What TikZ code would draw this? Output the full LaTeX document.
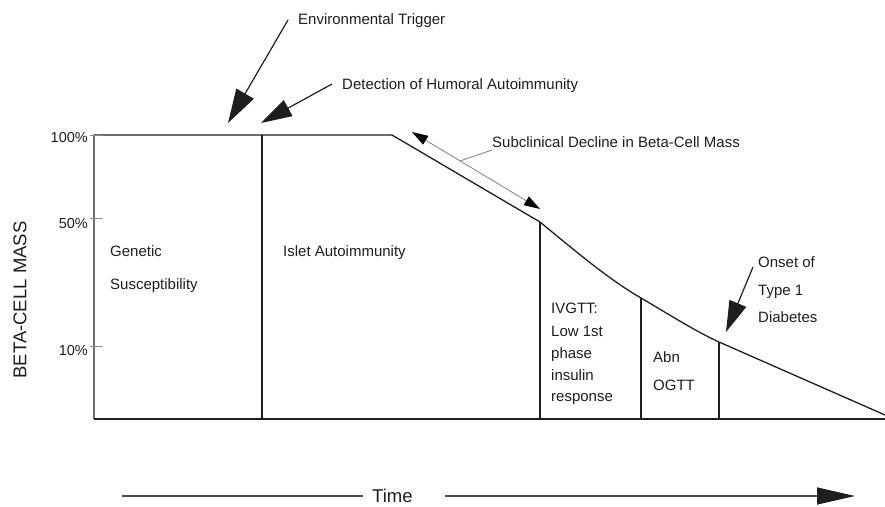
\documentclass[tikz,border=0pt]{standalone}
\usepackage{fontspec}
\setmainfont{Liberation Sans}
\usetikzlibrary{arrows.meta}
\definecolor{ink}{HTML}{1E1E1E}
\definecolor{leadgray}{HTML}{8A8A8A}
\tikzset{
  lbl/.style={inner sep=0pt, anchor=base west, text=ink, font=\fontsize{15}{17}\selectfont},
  pct/.style={inner sep=0pt, anchor=base east, text=ink, font=\fontsize{14.5}{17}\selectfont},
  curveline/.style={draw=ink, line width=1.3pt, line join=miter},
  divider/.style={draw=ink, line width=1.1pt},
  tickmark/.style={draw=leadgray, line width=1pt},
  bigarrow/.style={draw=ink, line width=1.2pt, -{Triangle[length=34pt,width=20pt]}},
  midarrow/.style={draw=ink, line width=1.2pt, -{Triangle[length=31pt,width=18pt]}},
  dblarrow/.style={draw=leadgray, line width=0.9pt, {Triangle[length=16pt,width=10pt,color=black]}-{Triangle[length=16pt,width=10pt,color=black]}},
  leader/.style={draw=leadgray, line width=0.9pt},
  timeline/.style={draw=ink!80, line width=1.3pt}
}
\begin{document}
\begin{tikzpicture}[x=1pt,y=-1pt]
\useasboundingbox (0,0) rectangle (885,506);
% key points of the curve
\coordinate (o) at (94,419);
\coordinate (top) at (94,135);
\coordinate (k1) at (392,135);
\coordinate (k2) at (540,222);
\coordinate (k3) at (641,298);
\coordinate (k4) at (719,342);
\coordinate (k5) at (885,415);
\coordinate (br) at (885,419);
\coordinate (b262) at (262,419);
\coordinate (t262) at (262,135);
\coordinate (b540) at (540,419);
\coordinate (b641) at (641,419);
\coordinate (b719) at (719,419);
% frame and curve
\draw[curveline] (o) -- (br);
\draw[curveline] (o) -- (top) -- (k1) -- (k2)
  .. controls (580,255) and (610,280) .. (k3)
  .. controls (670,315) and (695,331) .. (k4) -- (k5);
\draw[divider] (t262) -- (b262);
\draw[divider] (k2) -- (b540);
\draw[divider] (k3) -- (b641);
\draw[divider] (k4) -- (b719);
% ticks
\coordinate (t1a) at (90,135); \coordinate (t1b) at (103,135);
\coordinate (t2a) at (90,218); \coordinate (t2b) at (103,218);
\coordinate (t3a) at (90,346); \coordinate (t3b) at (103,346);
\draw[tickmark] (t1a) -- (t1b);
\draw[tickmark] (t2a) -- (t2b);
\draw[tickmark] (t3a) -- (t3b);
\node[pct] (p100) at (88,142) {100\%};
\node[pct] (p50) at (88,228) {50\%};
\node[pct] (p10) at (88,355) {10\%};
\node[rotate=90, inner sep=0pt, text=ink, font=\fontsize{18.5}{20}\selectfont] (ylab) at (20,300) {BETA-CELL MASS};
% region labels
\node[lbl] (gen1) at (110,256) {Genetic};
\node[lbl] (gen2) at (110,289) {Susceptibility};
\node[lbl] (islet) at (283,256) {Islet Autoimmunity};
\node[lbl] (iv1) at (551,313) {IVGTT:};
\node[lbl] (iv2) at (551,336) {Low 1st};
\node[lbl] (iv3) at (551,358) {phase};
\node[lbl] (iv4) at (551,380) {insulin};
\node[lbl] (iv5) at (551,401) {response};
\node[lbl] (abn1) at (653,362) {Abn};
\node[lbl] (abn2) at (653,390) {OGTT};
% annotations
\node[lbl] (env) at (298,24) {Environmental Trigger};
\coordinate (envs) at (288,20);
\coordinate (envt) at (228,123);
\draw[bigarrow] (envs) -- (envt);
\node[lbl] (det) at (342,89) {Detection of Humoral Autoimmunity};
\coordinate (dets) at (332,84);
\coordinate (dett) at (261,123);
\draw[midarrow] (dets) -- (dett);
\node[lbl] (sub) at (492,147) {Subclinical Decline in Beta-Cell Mass};
\coordinate (suba) at (412,132);
\coordinate (subb) at (540,209);
\coordinate (subl1) at (492,150);
\coordinate (subl2) at (460,161);
\draw[dblarrow] (suba) -- (subb);
\draw[leader] (subl1) -- (subl2);
\node[lbl] (on1) at (758,267) {Onset of};
\node[lbl] (on2) at (758,295) {Type 1};
\node[lbl] (on3) at (758,322) {Diabetes};
\coordinate (ons) at (753,267);
\coordinate (ont) at (726,332);
\draw[midarrow] (ons) -- (ont);
% time axis
\node[inner sep=0pt, anchor=base west, text=ink, font=\fontsize{18.5}{20}\selectfont] (time) at (372,502) {Time};
\coordinate (tl) at (122,496);
\coordinate (tlend) at (363,496);
\coordinate (trst) at (445,496);
\coordinate (tr) at (855,496);
\draw[timeline] (tl) -- (tlend);
\draw[timeline, -{Triangle[length=38pt,width=17pt,color=ink]}] (trst) -- (tr);
\end{tikzpicture}
\end{document}
